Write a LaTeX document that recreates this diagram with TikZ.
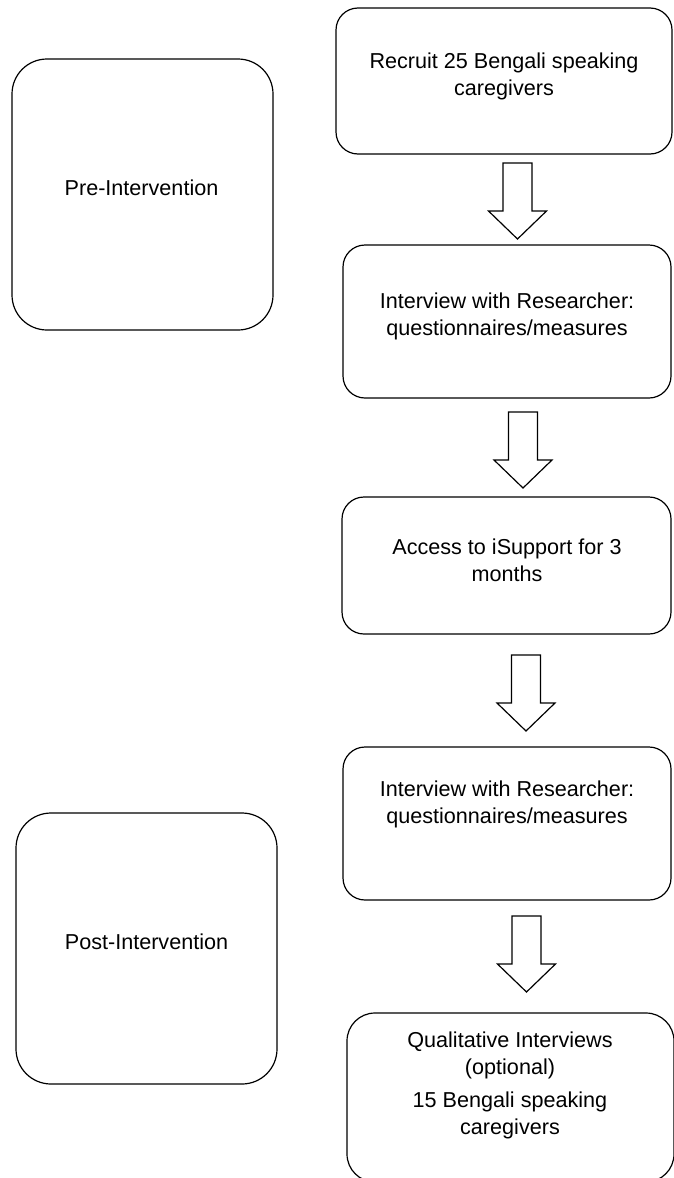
\documentclass[tikz,border=0pt]{standalone}
\usepackage{fontspec}
\setmainfont{Liberation Sans}
\begin{document}
\begin{tikzpicture}[x=1pt,y=-1pt,
  stagebox/.style={draw=black, line width=1.2pt, rounded corners=22pt, fill=white, inner sep=0pt},
  phasebox/.style={draw=black, line width=1.2pt, rounded corners=35pt, inner sep=0pt},
  lbl/.style={align=center, inner sep=0pt, font=\fontsize{21.6}{27}\selectfont},
  blockarrow/.style={draw=black, line width=1.2pt, fill=white, line join=miter},
  pics/downarrow/.style={code={
    \path[blockarrow] (-14.5,0) -- (14.5,0) -- (14.5,48) -- (29,48) -- (0,76)
      -- (-29,48) -- (-14.5,48) -- cycle;
  }}]
\useasboundingbox (0,0) rectangle (673,1178);

% phase boxes on the left
\node[phasebox, minimum width=261pt, minimum height=271pt] (pre) at (142.5,194.5) {};
\node[lbl] (pretext) at (141.5,188) {Pre-Intervention};
\node[phasebox, minimum width=261pt, minimum height=271pt] (post) at (146.5,948.5) {};
\node[lbl] (posttext) at (146.5,942) {Post-Intervention};

% study steps on the right
\node[stagebox, minimum width=336pt, minimum height=146pt] (s1) at (504,81) {};
\node[lbl] (s1text) at (504,76) {Recruit 25 Bengali speaking\\caregivers};

\node[stagebox, minimum width=328pt, minimum height=153pt] (s2) at (507,321.5) {};
\node[lbl] (s2text) at (507,316) {Interview with Researcher:\\questionnaires/measures};

\node[stagebox, minimum width=329pt, minimum height=137pt] (s3) at (506.5,565.5) {};
\node[lbl] (s3text) at (507,560) {Access to iSupport for 3\\months};

\node[stagebox, minimum width=328pt, minimum height=153pt] (s4) at (507,823.5) {};
\node[lbl] (s4text) at (507,804) {Interview with Researcher:\\questionnaires/measures};

\node[stagebox, rounded corners=28pt, minimum width=327pt, minimum height=169pt] (s5) at (510.5,1097.5) {};
\node[lbl] (s5text) at (510,1085) {Qualitative Interviews\\(optional)\\[6pt]15 Bengali speaking\\caregivers};

% block arrows between the steps
\pic (a1) at (517.5,163) {downarrow};
\pic (a2) at (523,412) {downarrow};
\pic (a3) at (526,655) {downarrow};
\pic (a4) at (526.5,916) {downarrow};
\end{tikzpicture}
\end{document}
